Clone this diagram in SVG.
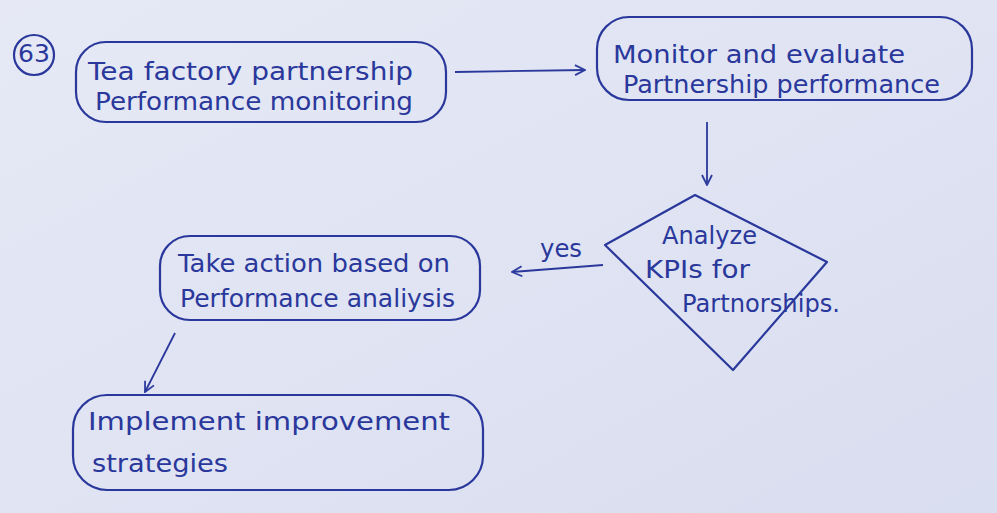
<svg xmlns="http://www.w3.org/2000/svg" width="997" height="513" viewBox="0 0 997 513">
<defs>
<marker id="ah" viewBox="0 0 12 12" refX="11" refY="6" markerWidth="12" markerHeight="12" markerUnits="userSpaceOnUse" orient="auto">
<path d="M1,1 L11,6 L1,11" fill="none" stroke="#2d3b9e" stroke-width="1.8"/>
</marker>
<linearGradient id="bg" x1="0" y1="0" x2="1" y2="1">
<stop offset="0" stop-color="#e6e9f5"/>
<stop offset="1" stop-color="#d9def0"/>
</linearGradient>
</defs>
<style>
.s{fill:none;stroke:#2a389c;stroke-width:2.2;stroke-linecap:round;stroke-linejoin:round}
.t{font-family:"DejaVu Sans","Liberation Sans",sans-serif;font-size:25px;fill:#2a389c}
.c{stroke:#2a389c;stroke-width:1.8;fill:none;marker-end:url(#ah)}
</style>
<rect width="997" height="513" fill="url(#bg)"/>
<g id="num">
<circle class="s" cx="34" cy="55" r="20"/>
<text class="t" x="34" y="62" text-anchor="middle" font-size="19">63</text>
</g>
<g id="n1">
<rect class="s" x="76" y="42" width="370" height="80" rx="30"/>
<text class="t" x="88" y="80" textLength="325" lengthAdjust="spacingAndGlyphs">Tea factory partnership</text>
<text class="t" x="95" y="110" textLength="318" lengthAdjust="spacingAndGlyphs">Performance monitoring</text>
</g>
<g id="n2">
<rect class="s" x="597" y="17" width="375" height="83" rx="32"/>
<text class="t" x="613" y="63" textLength="292" lengthAdjust="spacingAndGlyphs">Monitor and evaluate</text>
<text class="t" x="623" y="93" textLength="317" lengthAdjust="spacingAndGlyphs">Partnership performance</text>
</g>
<g id="n3">
<path class="s" d="M695,195 L827,262 L733,370 L605,245 Z"/>
<text class="t" x="662" y="244" textLength="95" lengthAdjust="spacingAndGlyphs">Analyze</text>
<text class="t" x="645" y="278" textLength="105" lengthAdjust="spacingAndGlyphs">KPIs for</text>
<text class="t" x="682" y="312" textLength="158" lengthAdjust="spacingAndGlyphs">Partnorships.</text>
</g>
<g id="n4">
<rect class="s" x="160" y="236" width="320" height="84" rx="30"/>
<text class="t" x="178" y="272" textLength="272" lengthAdjust="spacingAndGlyphs">Take action based on</text>
<text class="t" x="180" y="307" textLength="275" lengthAdjust="spacingAndGlyphs">Performance analiysis</text>
</g>
<g id="n5">
<rect class="s" x="73" y="395" width="410" height="95" rx="34"/>
<text class="t" x="88" y="430" textLength="362" lengthAdjust="spacingAndGlyphs">Implement improvement</text>
<text class="t" x="92" y="472" textLength="136" lengthAdjust="spacingAndGlyphs">strategies</text>
</g>
<g id="connectors">
<line class="c" x1="455" y1="72" x2="585" y2="70"/>
<line class="c" x1="707" y1="122" x2="707" y2="185"/>
<line class="c" x1="603" y1="265" x2="512" y2="272"/>
<text class="t" x="540" y="257" textLength="42" lengthAdjust="spacingAndGlyphs">yes</text>
<line class="c" x1="175" y1="333" x2="145" y2="392"/>
</g>
</svg>
